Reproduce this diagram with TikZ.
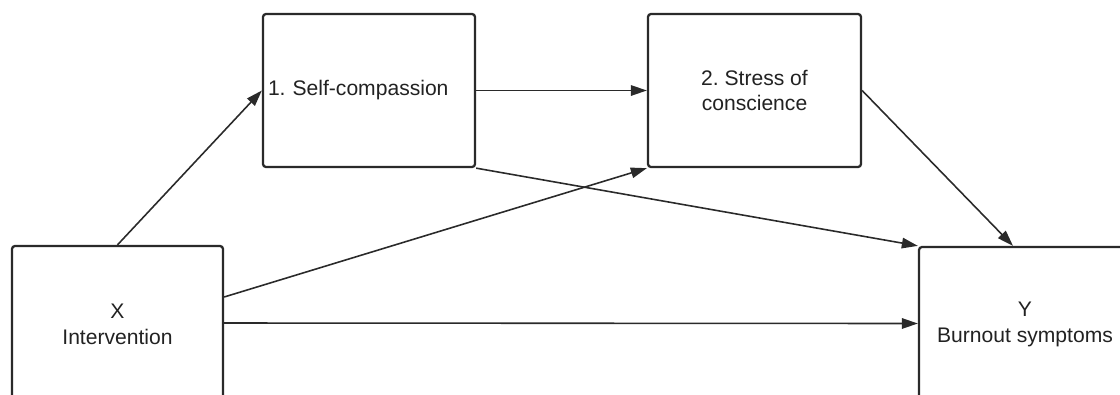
\documentclass[tikz,border=0pt]{standalone}
\usepackage{fontspec}
\setmainfont{Liberation Sans}
\usetikzlibrary{arrows.meta}
\definecolor{boxline}{HTML}{2A2A2A}
\definecolor{boxtext}{HTML}{222222}
\tikzset{
  varbox/.style={draw=boxline, line width=1.3pt, rounded corners=0.6mm, fill=white,
    text=boxtext, font=\fontsize{12}{14.7}\selectfont\frenchspacing, align=center, inner xsep=1mm},
  path/.style={draw=boxline, line width=0.9pt, -{Triangle[length=3.2mm,width=2.1mm]}}
}
\begin{document}
\begin{tikzpicture}[x=0.2mm, y=-0.2mm]

    \clip (0, 0) rectangle (1120, 394);

    \node[varbox, minimum width=42.2mm, minimum height=31.2mm] (x) at (117.5, 324){X\\Intervention};
    \node[varbox, minimum width=42.4mm, minimum height=30.6mm, text width=40.4mm, align=left] (sc) at (369, 90.5){1. Self-compassion};
    \node[varbox, minimum width=42.6mm, minimum height=30.6mm] (st) at (754.5, 90.5){2. Stress of\\conscience};
    \node[varbox, minimum width=42.4mm, minimum height=31mm] (y) at (1025, 324.5){Y\\Burnout symptoms};

        \draw[path] (x.north) to (sc.west);
        \draw[path] (sc.east) to (st.west);
        \draw[path] (sc.south east) to (y.north west);
        \draw[path] ([yshift=5.4mm]x.east) to (st.south west);
        \draw[path] ([yshift=0.2mm]x.east) to ([yshift=0.2mm]y.west);
        \draw[path] (st.east) to ([xshift=-2.4mm]y.north);

\end{tikzpicture}
\end{document}
